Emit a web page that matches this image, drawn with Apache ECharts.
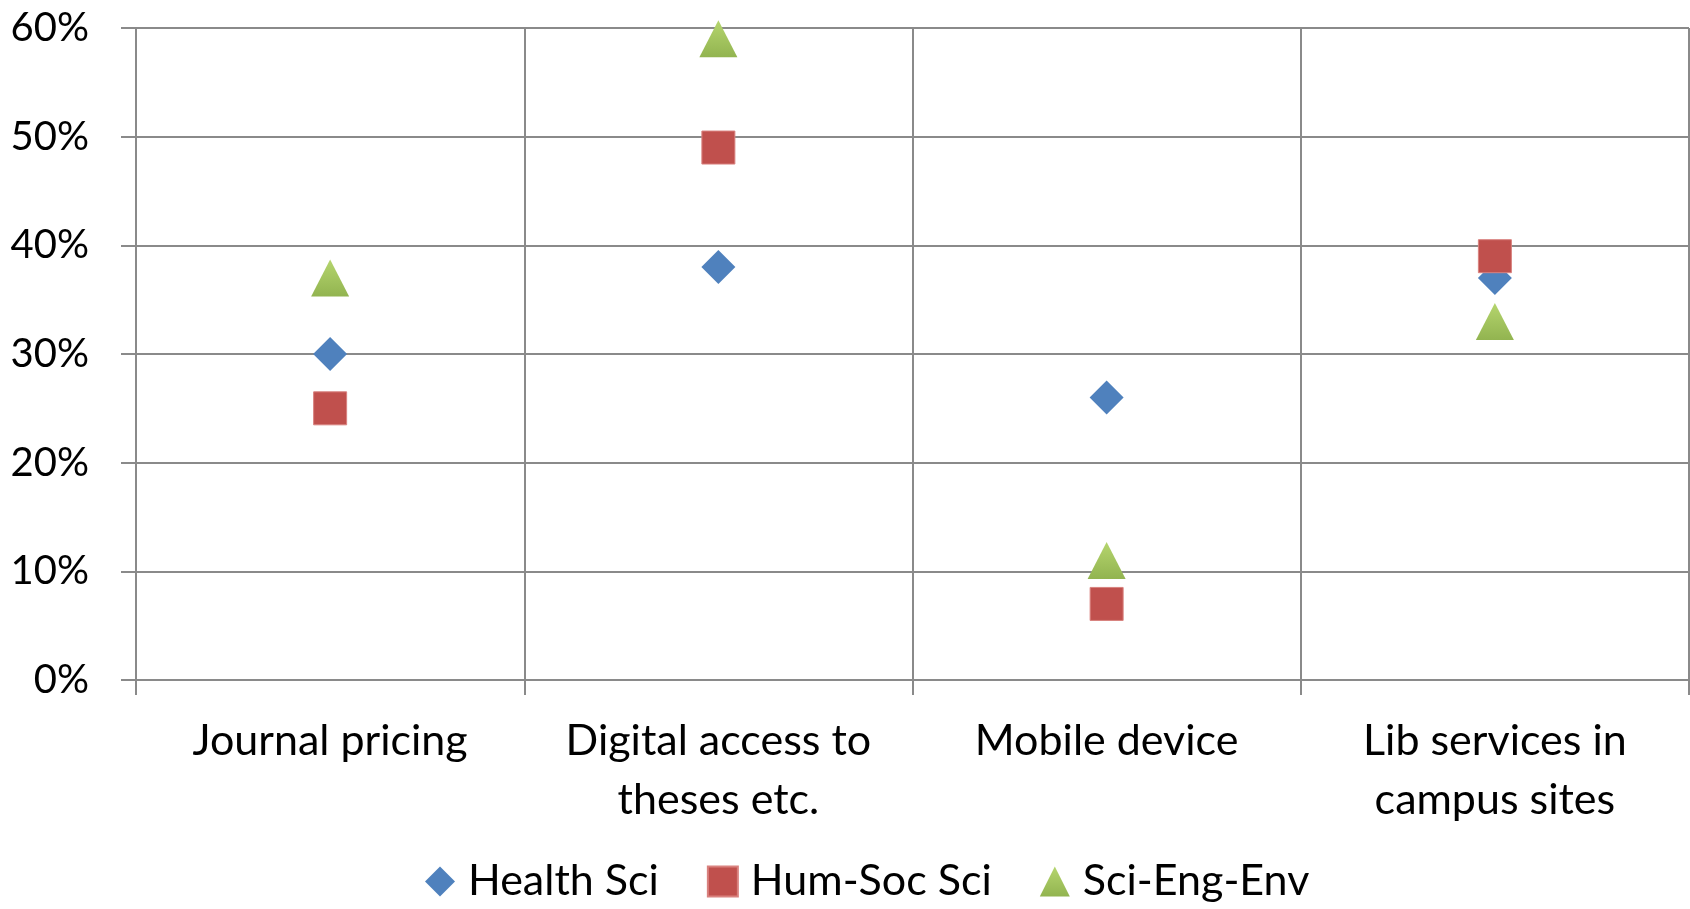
<!DOCTYPE html>
<html>
<head>
<meta charset="utf-8">
<script src="https://cdn.jsdelivr.net/npm/echarts@6/dist/echarts.min.js"></script>
<style>
  html, body { margin: 0; padding: 0; background: #ffffff; }
  #chart { width: 1690px; height: 909px; }
</style>
</head>
<body>
<div id="chart"></div>
<script>
// categories and values (percent)
const categories = ["Journal pricing", "Digital access to\ntheses etc.", "Mobile device", "Lib services in\ncampus sites"];
const healthSci = [30, 38, 26, 37];
const humSocSci = [25, 49, 7, 39];
const sciEngEnv = [37, 59, 11, 33];
const yTicks = { min: 0, max: 60, step: 10 };

const gridColor = "#8a8a8a";
const fontFamily = "Lato, 'Open Sans', sans-serif";

let myChart = echarts.init(document.getElementById("chart"));

let option = {
  animation: false,
  textStyle: { fontFamily: fontFamily },
  grid: {
    left: 136,
    right: 1,
    top: 28,
    bottom: 229
  },
  legend: {
    bottom: 1,
    left: 420,
    itemWidth: 30,
    itemHeight: 30,
    itemGap: 48,
    textStyle: {
      fontSize: 43,
      color: "#000",
      fontFamily: fontFamily,
      padding: [0, 0, 0, 8]
    },
    data: ["Health Sci", "Hum-Soc Sci", "Sci-Eng-Env"]
  },
  xAxis: {
    type: "category",
    data: categories,
    boundaryGap: true,
    axisLine: { show: true, lineStyle: { color: gridColor, width: 2 } },
    axisTick: { show: true, length: 15, lineStyle: { color: gridColor, width: 2 } },
    splitLine: { show: true, lineStyle: { color: gridColor, width: 2 } },
    axisLabel: {
      fontSize: 43,
      color: "#000",
      lineHeight: 59,
      margin: 32,
      interval: 0
    }
  },
  yAxis: {
    type: "value",
    min: yTicks.min,
    max: yTicks.max,
    interval: yTicks.step,
    axisLine: { show: true, lineStyle: { color: gridColor, width: 2 } },
    axisTick: { show: true, length: 15, lineStyle: { color: gridColor, width: 2 } },
    splitLine: { show: true, lineStyle: { color: gridColor, width: 2 } },
    axisLabel: {
      fontSize: 40,
      color: "#000",
      margin: 47,
      formatter: "{value}%"
    }
  },
  series: [
    {
      name: "Health Sci",
      type: "scatter",
      symbol: "diamond",
      symbolSize: [34, 34],
      itemStyle: { color: "#4f81bd", opacity: 1 },
      data: healthSci
    },
    {
      name: "Hum-Soc Sci",
      type: "scatter",
      symbol: "rect",
      symbolSize: [33, 33],
      itemStyle: { color: "#c0504d", borderColor: "#d9827f", borderWidth: 1, opacity: 1 },
      data: humSocSci
    },
    {
      name: "Sci-Eng-Env",
      type: "scatter",
      symbol: "triangle",
      symbolSize: [38, 37],
      itemStyle: {
        color: new echarts.graphic.LinearGradient(0, 0, 0, 1, [
          { offset: 0, color: "#b5d56e" },
          { offset: 1, color: "#92b450" }
        ]),
        opacity: 1
      },
      data: sciEngEnv
    }
  ]
};

myChart.setOption(option);
window.onresize = () => {
  myChart.resize();
};
</script>
</body>
</html>
